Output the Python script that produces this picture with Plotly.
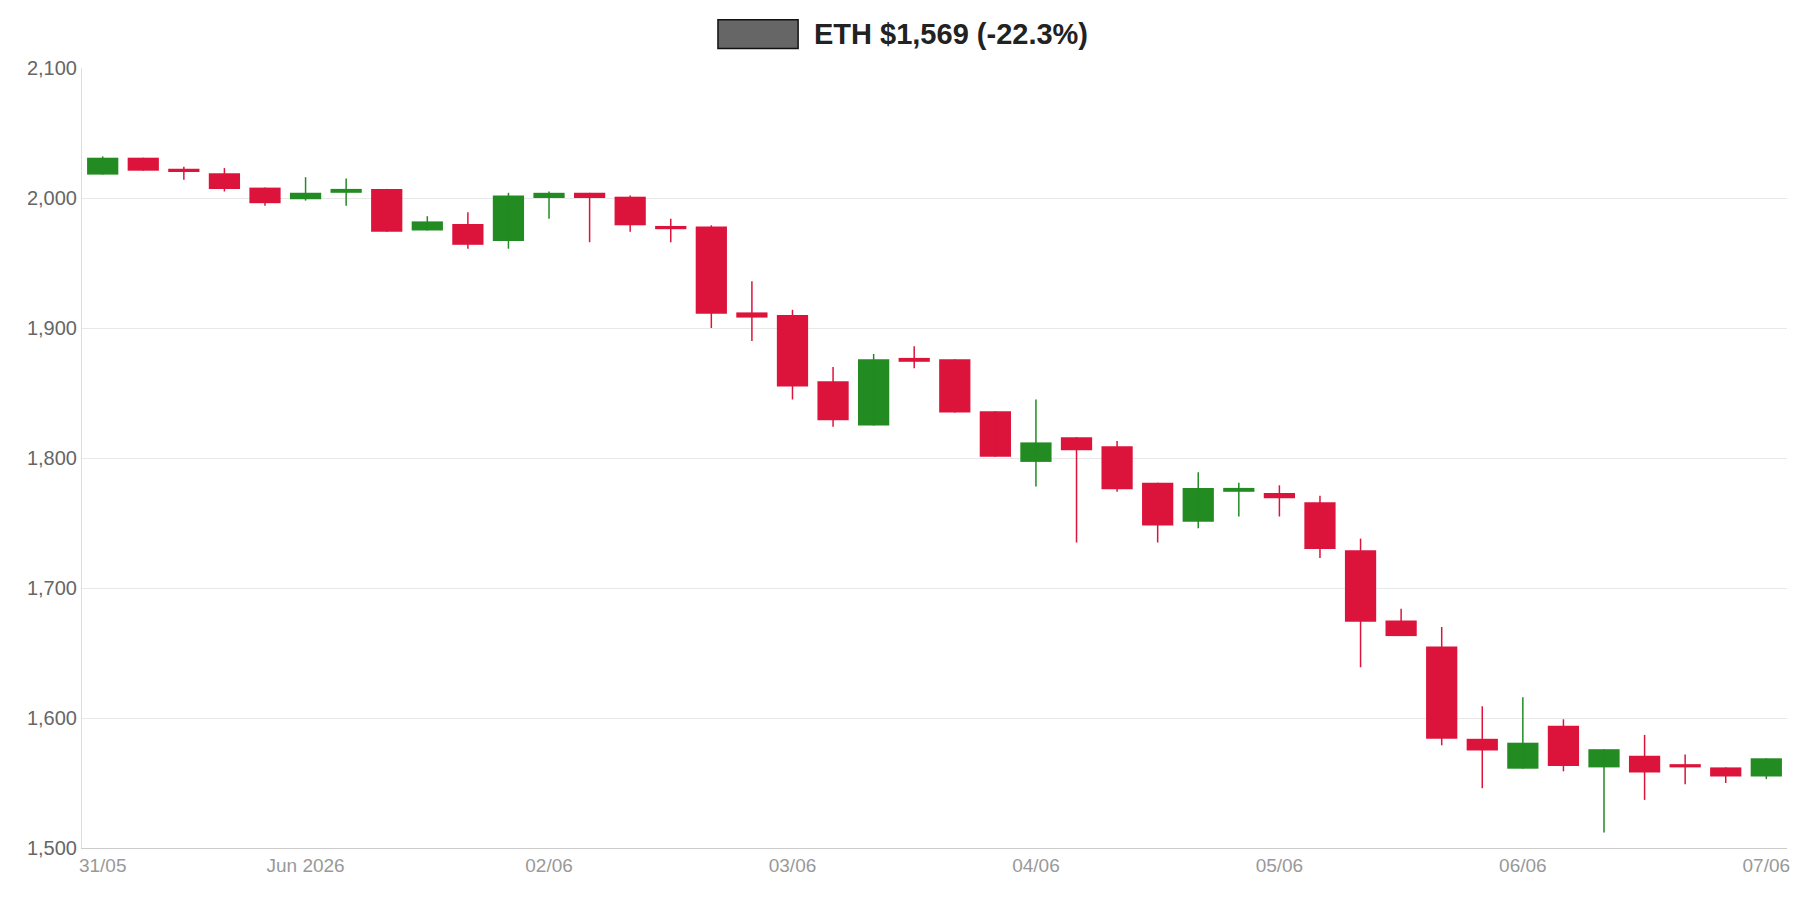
import plotly.graph_objects as go

# 4-hour candles, 31/05 -> 07/06
opens = [2018, 2031, 2022, 2019, 2008, 1999, 2004, 2007, 1975, 1980, 1967, 2000, 2004, 2001,
         1978, 1978, 1912, 1910, 1859, 1825, 1877, 1876, 1836, 1797, 1816, 1809, 1781, 1751,
         1774, 1773, 1766, 1729, 1675, 1655, 1584, 1561, 1594, 1562, 1571, 1564, 1562, 1555]
highs = [2032, 2031, 2024, 2023, 2008, 2016, 2015, 2007, 1986, 1989, 2004, 2005, 2004, 2002,
         1984, 1979, 1936, 1914, 1870, 1880, 1886, 1876, 1836, 1845, 1816, 1813, 1781, 1789,
         1781, 1779, 1771, 1738, 1684, 1670, 1609, 1616, 1599, 1576, 1587, 1572, 1562, 1569]
lows = [2018, 2021, 2014, 2005, 1994, 1998, 1994, 1974, 1975, 1961, 1961, 1984, 1966, 1974,
        1966, 1900, 1890, 1845, 1824, 1825, 1869, 1835, 1801, 1778, 1735, 1774, 1735, 1746,
        1755, 1755, 1723, 1639, 1663, 1579, 1546, 1561, 1559, 1512, 1537, 1549, 1550, 1553]
closes = [2031, 2021, 2020, 2007, 1996, 2004, 2007, 1974, 1982, 1964, 2002, 2004, 2000, 1979,
          1976, 1911, 1908, 1855, 1829, 1876, 1874, 1835, 1801, 1812, 1806, 1776, 1748, 1777,
          1777, 1769, 1730, 1674, 1663, 1584, 1575, 1581, 1563, 1576, 1558, 1562, 1555, 1569]

tick_pos = [0, 5, 11, 17, 23, 29, 35, 41]
tick_text = ["31/05", "Jun 2026", "02/06", "03/06", "04/06", "05/06", "06/06", "07/06"]

UP, DOWN = "#228B22", "#DC143C"
idx = list(range(len(opens)))
colors = [UP if c >= o else DOWN for o, c in zip(opens, closes)]

fig = go.Figure()

# wicks
for col in (UP, DOWN):
    wx, wy = [], []
    for i, h, l, c in zip(idx, highs, lows, colors):
        if c == col:
            wx += [i, i, None]
            wy += [l, h, None]
    fig.add_trace(go.Scatter(x=wx, y=wy, mode="lines", line=dict(color=col, width=1.5),
                             showlegend=False, hoverinfo="skip"))

# bodies
bases = [min(o, c) for o, c in zip(opens, closes)]
sizes = [max(abs(c - o), 2.5) for o, c in zip(opens, closes)]
fig.add_trace(go.Bar(x=idx, y=sizes, base=bases, width=0.77, marker=dict(color=colors, line=dict(width=0)),
                     showlegend=False))

fig.update_layout(
    width=1800, height=900, plot_bgcolor="white", paper_bgcolor="white",
    margin=dict(l=74, r=21, t=60, b=60),
    font=dict(family="Liberation Sans, Arial, sans-serif", size=20, color="#666"),
    xaxis=dict(
        range=[-0.51, 41.51], showgrid=False, zeroline=False,
        tickvals=tick_pos, ticktext=tick_text, tickfont=dict(color="#999", size=19),
        showline=True, linecolor="#ccc", ticks="",
    ),
    yaxis=dict(
        range=[1500, 2100], dtick=100, tickformat=",", gridcolor="#e8e8e8",
        showline=True, linecolor="#ddd", zeroline=False, tickfont=dict(size=20),
    ),
    shapes=[dict(type="rect", xref="paper", yref="paper", x0=0.373, x1=0.42, y0=1.025, y1=1.062,
                 fillcolor="#666", line=dict(color="#111", width=1.5))],
    annotations=[dict(text="<b>ETH $1,569 (-22.3%)</b>", xref="paper", yref="paper",
                      x=0.428, y=1.043, xanchor="left", yanchor="middle", showarrow=False,
                      font=dict(size=29, color="#222"))],
)

fig.write_html("out.html")
